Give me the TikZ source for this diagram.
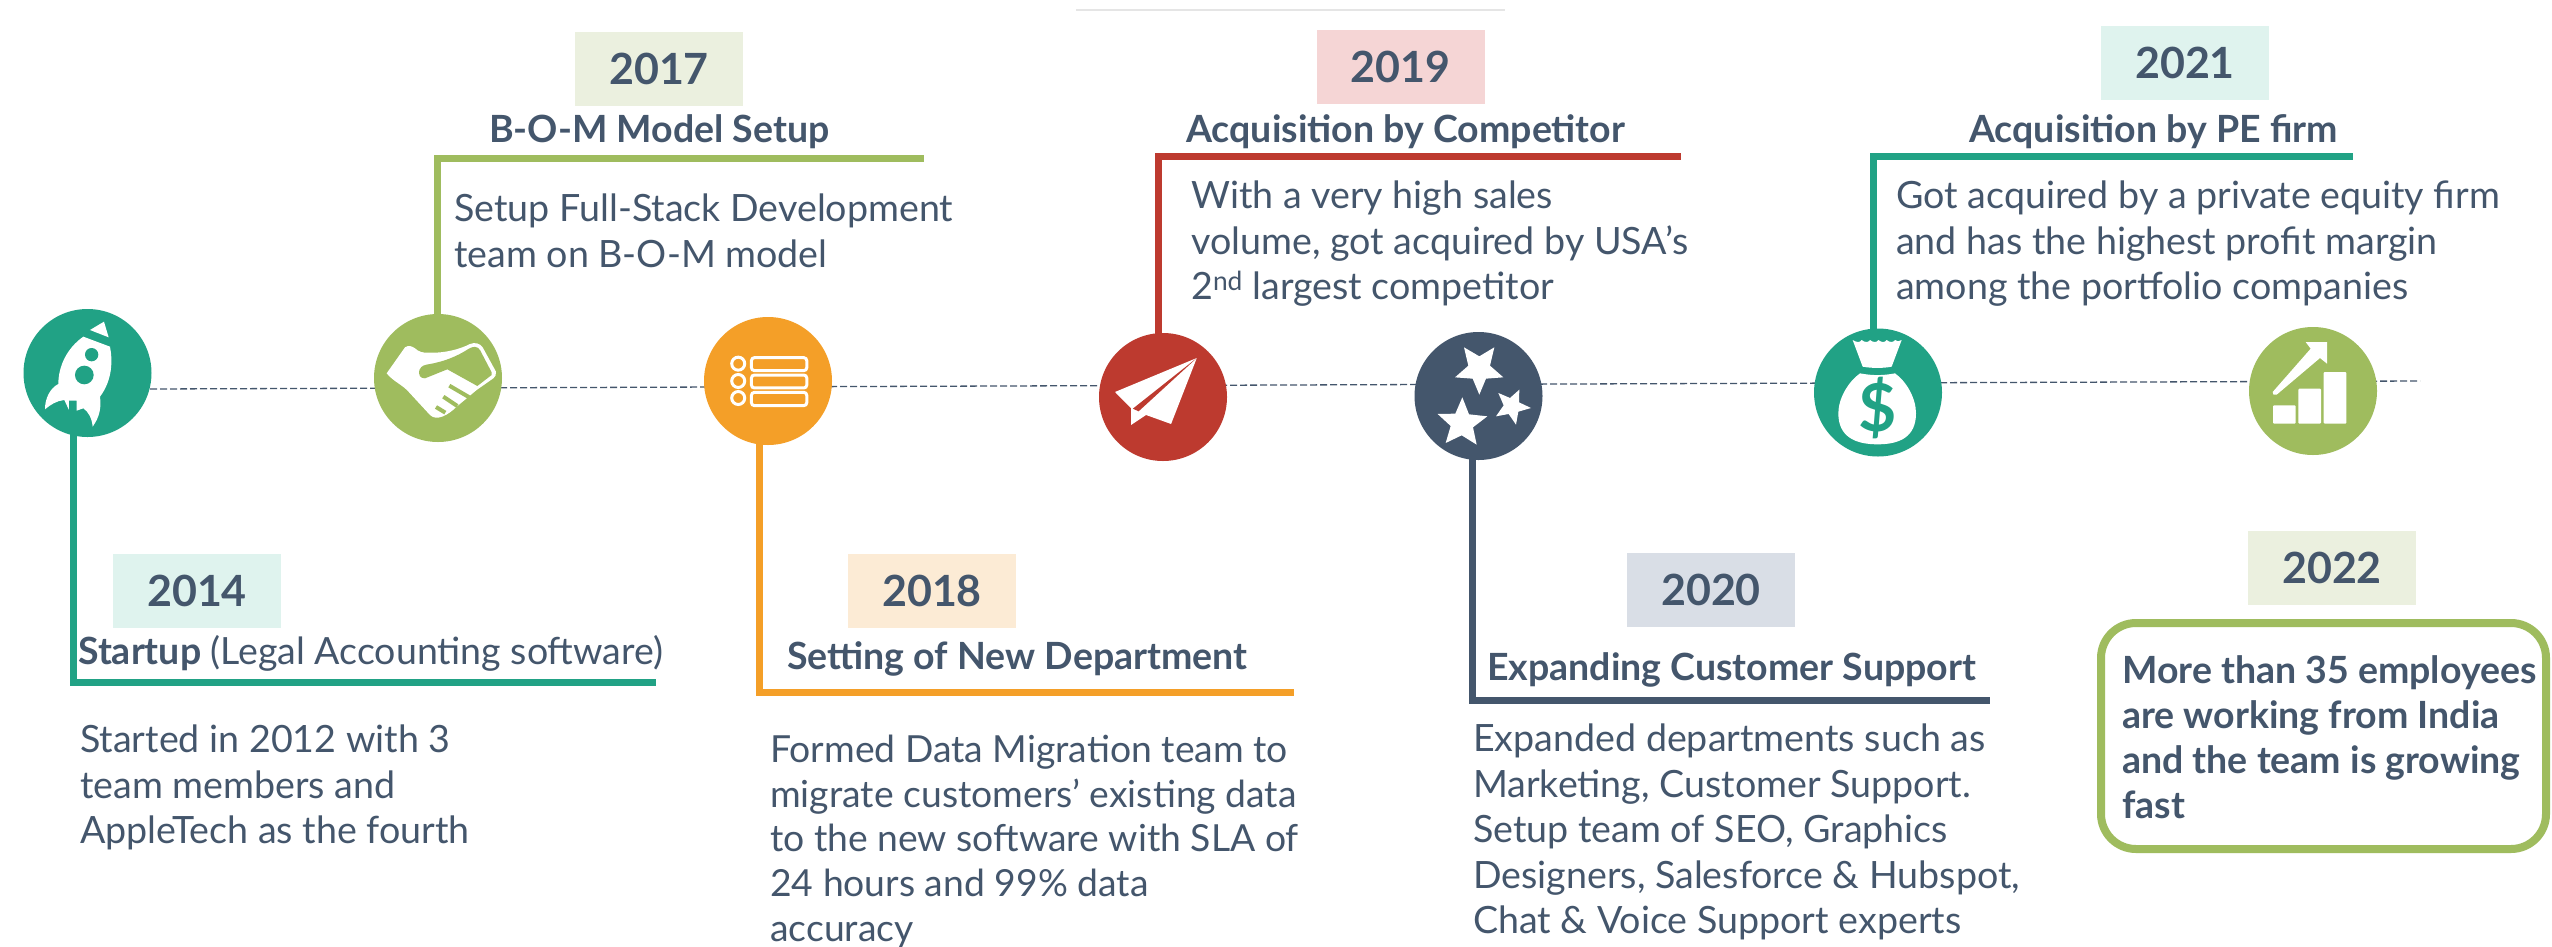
\documentclass[tikz,border=0pt]{standalone}
\usepackage{fontspec}
\setmainfont{Lato}
\usetikzlibrary{backgrounds}
\definecolor{cteal}{HTML}{21A285}
\definecolor{cgreen}{HTML}{9FBC5E}
\definecolor{corange}{HTML}{F49F28}
\definecolor{cred}{HTML}{BD3A2F}
\definecolor{cdark}{HTML}{44566C}
\definecolor{tgreen}{HTML}{EBF0DF}
\definecolor{tteal}{HTML}{DFF3EE}
\definecolor{torange}{HTML}{FCEBD5}
\definecolor{tred}{HTML}{F5D5D5}
\definecolor{tdark}{HTML}{D9DEE6}
\tikzset{
  dot/.style={circle,minimum size=128pt,inner sep=0pt,fill=#1},
  elbow/.style={draw=#1,line width=7pt},
  yearbox/.style={fill=#1,minimum width=168pt,minimum height=74pt,inner sep=0pt,text=cdark,font=\fontsize{43}{50}\selectfont\bfseries},
  headtext/.style={anchor=base west,inner sep=0pt,text=cdark,font=\fontsize{37.5}{46}\selectfont\bfseries},
  bodytext/.style={anchor=north west,inner sep=0pt,align=left,text=cdark,font=\fontsize{37.6}{45.4}\selectfont},
  icon/.style={fill=white,draw=none}
}
\begin{document}
\begin{tikzpicture}[x=1pt,y=-1pt]
\useasboundingbox (0,0) rectangle (2552,946);
\coordinate (dashstart) at (150,389);
\coordinate (dashend) at (2420,381);
\coordinate (topa) at (1076,10);
\coordinate (topb) at (1505,10);
% circles
\node[dot=cteal] (c1) at (87.5,373) {};
\node[dot=cgreen] (c2) at (438,378) {};
\node[dot=corange] (c3) at (768,381) {};
\node[dot=cred] (c4) at (1163,397) {};
\node[dot=cdark] (c5) at (1478.5,396) {};
\node[dot=cteal] (c6) at (1878,392.5) {};
\node[dot=cgreen] (c7) at (2313,391) {};
% connector corners and ends
\coordinate (k1) at (73,682);     \coordinate (e1) at (656,682);
\coordinate (k2) at (437.5,158);  \coordinate (e2) at (924,158);
\coordinate (k3) at (759,692);    \coordinate (e3) at (1294,692);
\coordinate (k4) at (1158.5,156); \coordinate (e4) at (1681,156);
\coordinate (k5) at (1472.5,700); \coordinate (e5) at (1990,700);
\coordinate (k6) at (1873,156);   \coordinate (e6) at (2353,156);
\begin{pgfonlayer}{background}
\fill[white] (0,0) rectangle (2552,946);
\draw[cdark,line width=1.3pt,dashed,dash pattern=on 7pt off 3pt] (dashstart) -- (dashend);
\draw[color=black!10,line width=2pt] (topa) -- (topb);
\draw[elbow=cteal] (k1 |- c1.center) -- (k1) -- (e1);
\draw[elbow=cgreen] (k2 |- c2.center) -- (k2) -- (e2);
\draw[elbow=corange] (k3 |- c3.center) -- (k3) -- (e3);
\draw[elbow=cred] (k4 |- c4.center) -- (k4) -- (e4);
\draw[elbow=cdark] (k5 |- c5.center) -- (k5) -- (e5);
\draw[elbow=cteal] (k6 |- c6.center) -- (k6) -- (e6);
\end{pgfonlayer}
% rocket
\begin{scope}[shift={(0,280)},x=0.3333pt,y=-0.3333pt]
\fill[icon] (270,150) -- (312,125) -- (326,172) -- cycle;
\fill[icon] (250,170) -- (330,200) .. controls (338,240) and (338,300) .. (300,350)
  .. controls (304,380) and (300,410) .. (278,440) .. controls (276,415) and (265,395) .. (250,385)
  -- (230,392) -- (230,362) -- (207,362) -- (207,390) -- (193,360)
  .. controls (170,362) and (150,375) .. (135,388) .. controls (135,355) and (150,325) .. (175,312)
  .. controls (175,260) and (200,205) .. (250,170) -- cycle;
\fill[cteal] (275,224) circle[radius=20];
\fill[cteal] (253,285) circle[radius=28];
\end{scope}
% handshake
\begin{scope}[shift={(370,310)},x=0.3333pt,y=-0.3333pt]
\fill[icon] (50,190) -- (105,112) .. controls (115,105) and (125,108) .. (135,115) .. controls (145,125) and (160,130) .. (180,128)
 .. controls (220,130) and (270,118) .. (300,102) .. controls (315,96) and (330,100) .. (338,112)
 -- (378,185) .. controls (380,195) and (375,200) .. (370,205) -- (320,240) -- (260,290)
 .. controls (235,315) and (200,335) .. (180,315) -- (120,250) .. controls (100,225) and (70,215) .. (50,190) -- cycle;
\fill[cgreen] (148,180) .. controls (155,165) and (165,165) .. (180,162) .. controls (220,155) and (260,140) .. (295,117)
 .. controls (310,108) and (322,108) .. (330,120) -- (365,187) -- (365,195) -- (322,228) -- (232,178) -- (165,205) .. controls (150,205) and (145,195) .. (148,180) -- cycle;
\draw[cgreen,line width=4pt] (238,227) -- (298,262) (220,260) -- (262,288) (198,291) -- (226,308);
\end{scope}
% list
\begin{scope}[shift={(680,300)},x=0.35714pt,y=-0.3333pt]
\draw[white,line width=3pt] (163,191) circle[radius=6.5pt] (163,243) circle[radius=6.5pt] (163,294) circle[radius=6.5pt];
\draw[white,line width=3pt,rounded corners=3pt] (200,173) rectangle (355,212) (200,225) rectangle (355,264) (200,277) rectangle (355,317);
\end{scope}
% plane
\begin{scope}[shift={(680,300)},x=0.35714pt,y=-0.3333pt]
\fill[icon] (1447,174) -- (1218,276) -- (1263,325) -- (1263,375) -- (1305,345) -- (1375,372) -- cycle;
\fill[cred] (1447,174) -- (1268,326) -- (1284,334) -- cycle;
\end{scope}
% stars
\begin{scope}[shift={(1410,328)},x=0.3333pt,y=-0.3333pt]
\fill[icon] (253,58) -- (240,113) -- (280,148) -- (228,152) -- (208,200) -- (188,152) -- (135,148) -- (175,113) -- (162,58) -- (208,85) -- cycle;
\fill[icon] (157,208) -- (177,259) -- (232,265) -- (189,298) -- (200,350) -- (155,322) -- (107,345) -- (122,294) -- (83,258) -- (136,257) -- cycle;
\fill[icon] (328,185) -- (327,223) -- (363,240) -- (325,251) -- (318,290) -- (296,258) -- (258,265) -- (281,232) -- (265,195) -- (300,210) -- cycle;
\end{scope}
% money bag
\begin{scope}[shift={(1810,325)},x=0.3333pt,y=-0.3333pt]
\fill[icon] (128,45) .. controls (140,53) and (150,53) .. (155,45) .. controls (165,53) and (175,53) .. (180,45)
  .. controls (190,53) and (200,53) .. (205,45) .. controls (215,53) and (225,53) .. (230,45)
  .. controls (240,53) and (250,53) .. (255,45) .. controls (260,50) and (268,50) .. (275,45)
  -- (245,125) .. controls (220,130) and (185,130) .. (158,125) -- cycle;
\fill[icon] (150,145) .. controls (185,152) and (220,152) .. (255,145)
  .. controls (290,170) and (318,220) .. (318,265) .. controls (318,335) and (270,358) .. (203,358)
  .. controls (135,358) and (85,335) .. (85,265) .. controls (85,220) and (115,170) .. (150,145) -- cycle;
\node[inner sep=0pt,text=cteal,font=\fontsize{66}{70}\selectfont\bfseries] (dollar) at (203,250) {\$};
\end{scope}
% chart
\begin{scope}[shift={(2245,322)},x=0.3333pt,y=-0.3333pt]
\fill[icon,rounded corners=1pt] (84,250) rectangle (152,305) (160,200) rectangle (228,305) (236,150) rectangle (304,305);
\fill[icon] (83,210) -- (197,80) -- (182,60) -- (246,60) -- (246,125) -- (225,108) -- (95,218) .. controls (88,222) and (80,216) .. (83,210) -- cycle;
\end{scope}
% year boxes
\node[yearbox=tteal] (y2014) at (197,590.5) {2014};
\node[yearbox=tgreen] (y2017) at (659,69) {\raisebox{-1pt}{2017}};
\node[yearbox=torange] (y2018) at (932,590.5) {2018};
\node[yearbox=tred] (y2019) at (1400.5,66.5) {\raisebox{-1pt}{2019}};
\node[yearbox=tdark] (y2020) at (1711,590) {2020};
\node[yearbox=tteal] (y2021) at (2185,63) {\raisebox{-2pt}{2021}};
\node[yearbox=tgreen] (y2022) at (2332,568) {2022};
% headings
\node[headtext] (h2014) at (78,664) {Startup \mdseries(Legal Accounting software)};
\node[headtext] (h2017) at (489,142) {B-O-M Model Setup};
\node[headtext] (h2018) at (787,669) {Setting of New Department};
\node[headtext] (h2019) at (1186,142) {Acquisition by Competitor};
\node[headtext] (h2020) at (1487,680) {Expanding Customer Support};
\node[headtext] (h2021) at (1969,142) {Acquisition by PE firm};
% bodies
\node[bodytext] (b2014) at (80,725) {Started in 2012 with 3\\team members and\\AppleTech as the fourth};
\node[bodytext] (b2017) at (454,194) {Setup Full-Stack Development\\team on B-O-M model};
\node[bodytext,font=\fontsize{37.3}{44.6}\selectfont] (b2018) at (770,735) {Formed Data Migration team to\\migrate customers’ existing data\\to the new software with SLA of\\24 hours and 99\% data\\accuracy};
\node[bodytext] (b2019) at (1191,181) {With a very high sales\\volume, got acquired by USA’s\\2\textsuperscript{nd} largest competitor};
\node[bodytext] (b2020) at (1473,724) {Expanded departments such as\\Marketing, Customer Support.\\Setup team of SEO, Graphics\\Designers, Salesforce \& Hubspot,\\Chat \& Voice Support experts};
\node[bodytext] (b2021) at (1896,181) {Got acquired by a private equity firm\\and has the highest profit margin\\among the portfolio companies};
% 2022 box
\node[draw=cgreen,fill=white,line width=8pt,rounded corners=35pt,minimum width=445pt,minimum height=226pt,inner sep=0pt] (box2022) at (2323.5,736) {};
\node[bodytext,font=\fontsize{37.5}{45}\selectfont\bfseries] (t2022) at (2122,655) {More than 35 employees\\are working from India\\and the team is growing\\fast};
\end{tikzpicture}
\end{document}
